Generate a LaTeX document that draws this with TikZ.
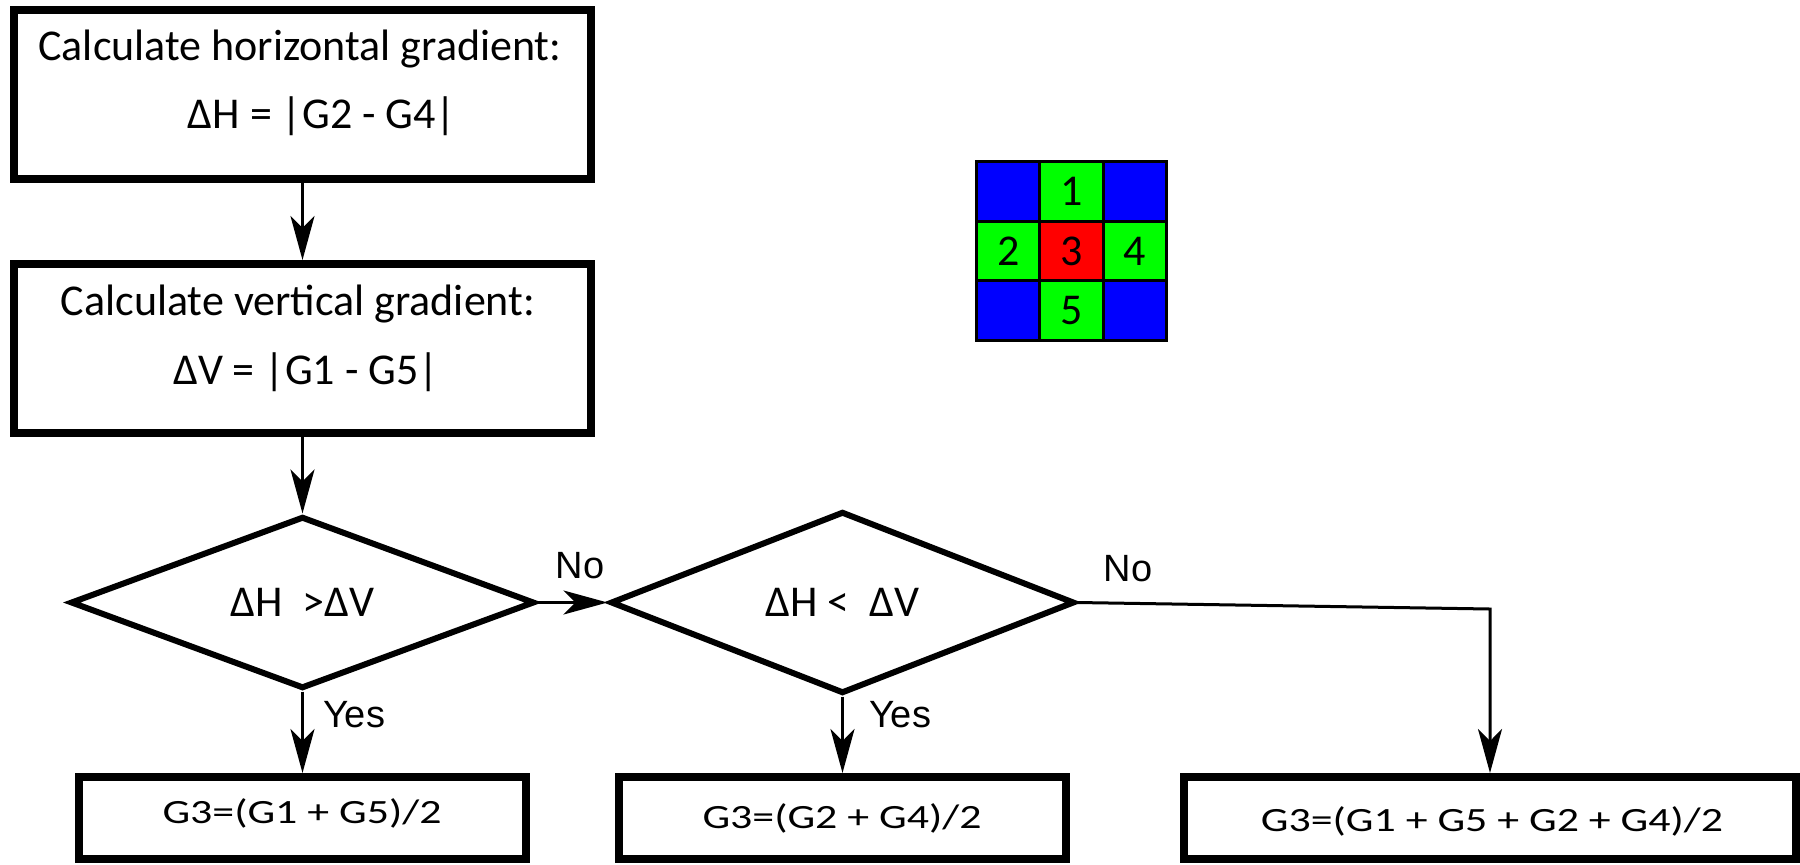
\documentclass[tikz,border=0pt]{standalone}
\usepackage{fontspec}
\usepackage{graphicx}
\setmainfont{Carlito}
\newfontfamily\labelfont{Liberation Sans}
\usetikzlibrary{arrows.meta,shapes.geometric}
\definecolor{cellblue}{RGB}{0,0,255}
\definecolor{cellgreen}{RGB}{0,255,0}
\definecolor{cellred}{RGB}{255,0,0}

\tikzset{
  box/.style={draw, line width=4pt, rectangle, inner sep=0pt},
  cond/.style={draw, diamond, line width=3pt, inner sep=0pt,
    minimum width=232pt, minimum height=72pt,
    font=\fontsize{22pt}{26pt}\selectfont},
  flow/.style={line width=1.5pt, -{Stealth[length=22pt,width=12pt,inset=6pt]}},
  txt/.style={inner sep=0pt, font=\fontsize{22pt}{26pt}\selectfont},
  res/.style={inner sep=0pt, font=\fontsize{17pt}{20pt}\selectfont},
  lbl/.style={inner sep=0pt, font=\labelfont\fontsize{19pt}{22pt}\selectfont},
  cell/.style={draw, line width=1.5pt, minimum width=31.67pt,
    minimum height=29.83pt, inner sep=0pt,
    font=\fontsize{22pt}{26pt}\selectfont},
}

\begin{document}
\begin{tikzpicture}[x=0.5pt,y=-0.5pt]
\useasboundingbox (0,0) rectangle (1800,864);

% gradient computation boxes
\node[box, minimum width=288.5pt, minimum height=84.5pt] (b1) at (302.5,94.5) {};
\node[box, minimum width=288.5pt, minimum height=84.5pt] (b2) at (302.5,348.5) {};
\node[txt, anchor=base] (t1) at (300,60) {Calculate horizontal gradient:};
\node[txt, anchor=base] (t2) at (322,128) {ΔH = |G2 - G4|};
\node[txt, anchor=base] (t3) at (298,315) {Calculate vertical gradient:};
\node[txt, anchor=base] (t4) at (306,384) {ΔV = |G1 - G5|};

% decisions
\node[cond] (d1) at (302.5,602.5) {ΔH~~>ΔV};
\node[cond] (d2) at (842.5,602.5) {ΔH~<~~ΔV};

% results
\node[box, minimum width=223.5pt, minimum height=41pt] (bA) at (302.5,818) {};
\node[box, minimum width=223.5pt, minimum height=41pt] (bB) at (842.5,818) {};
\node[box, minimum width=306pt, minimum height=41pt] (bC) at (1490,818) {};
\node[res, anchor=base] (r1) at (302,823) {\scalebox{1.29}[1]{G3=(G1 + G5)/2}};
\node[res, anchor=base] (r2) at (842,828) {\scalebox{1.29}[1]{G3=(G2 + G4)/2}};
\node[res, anchor=base] (r3) at (1492,831) {\scalebox{1.29}[1]{G3=(G1 + G5 + G2 + G4)/2}};

% branch labels
\node[lbl] (no1) at (580,566) {No};
\node[lbl] (no2) at (1128,569) {No};
\node[lbl] (yes1) at (354,715) {Yes};
\node[lbl] (yes2) at (900,715) {Yes};

% connectors
\draw[flow] (b1.south) -- (b2.north);
\draw[flow] (b2.south) -- (d1.north);
\draw[flow] (d1.east) -- (d2.west);
\draw[flow] (d1.south) -- (bA.north);
\draw[flow] (d2.south) -- (bB.north);
\coordinate (turn) at (1490,609);
\draw[flow] (d2.east) -- (turn) -- (bC.north);

% Bayer neighbourhood
\node[cell, fill=cellblue]  (c11) at (1008.2,191.3) {};
\node[cell, fill=cellgreen] (c12) at (1071.5,191.3) {1};
\node[cell, fill=cellblue]  (c13) at (1134.8,191.3) {};
\node[cell, fill=cellgreen] (c21) at (1008.2,251) {2};
\node[cell, fill=cellred]   (c22) at (1071.5,251) {3};
\node[cell, fill=cellgreen] (c23) at (1134.8,251) {4};
\node[cell, fill=cellblue]  (c31) at (1008.2,310.7) {};
\node[cell, fill=cellgreen] (c32) at (1071.5,310.7) {5};
\node[cell, fill=cellblue]  (c33) at (1134.8,310.7) {};
\end{tikzpicture}
\end{document}
